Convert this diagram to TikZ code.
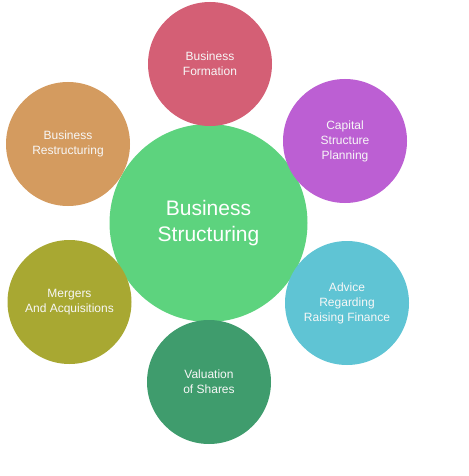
\documentclass[tikz,border=0pt]{standalone}
\usepackage{fontspec}
\setmainfont{Liberation Sans}
\usepackage{xcolor}
\usepackage{tikz}
\usetikzlibrary{positioning}

\definecolor{hubgreen}{HTML}{5DD37E}
\definecolor{formred}{HTML}{D45F75}
\definecolor{capviolet}{HTML}{BC5FD3}
\definecolor{advteal}{HTML}{5FC4D4}
\definecolor{valgreen}{HTML}{3F9C6D}
\definecolor{mergolive}{HTML}{A8A832}
\definecolor{restorange}{HTML}{D49B5F}

\begin{document}
\begin{tikzpicture}[
    x=1pt, y=-1pt,
    hub/.style={circle, fill=hubgreen, minimum size=198pt, inner sep=0pt, align=center, text=white, font=\fontsize{21}{26}\selectfont},
    topic/.style={circle, minimum size=124pt, inner sep=0pt, align=center, text=white!94!gray, font=\fontsize{12}{15}\selectfont}
]
\useasboundingbox (0,0) rectangle (468,476);

% Centre
\node[hub] (structuring) at (208.5,223) {Business\\Structuring};

% Services around the centre
\node[topic, fill=formred] (formation) at (210,64) {Business\\Formation};
\node[topic, fill=capviolet] (capital) at (345,141) {Capital\\Structure\\Planning};
\node[topic, fill=advteal] (finance) at (347,303) {Advice\\Regarding\\Raising Finance};
\node[topic, fill=valgreen] (valuation) at (209,382) {Valuation\\of Shares};
\node[topic, fill=mergolive] (mergers) at (69.5,302) {Mergers\\And Acquisitions};
\node[topic, fill=restorange] (restructuring) at (68,144) {Business\\Restructuring};

\end{tikzpicture}
\end{document}
